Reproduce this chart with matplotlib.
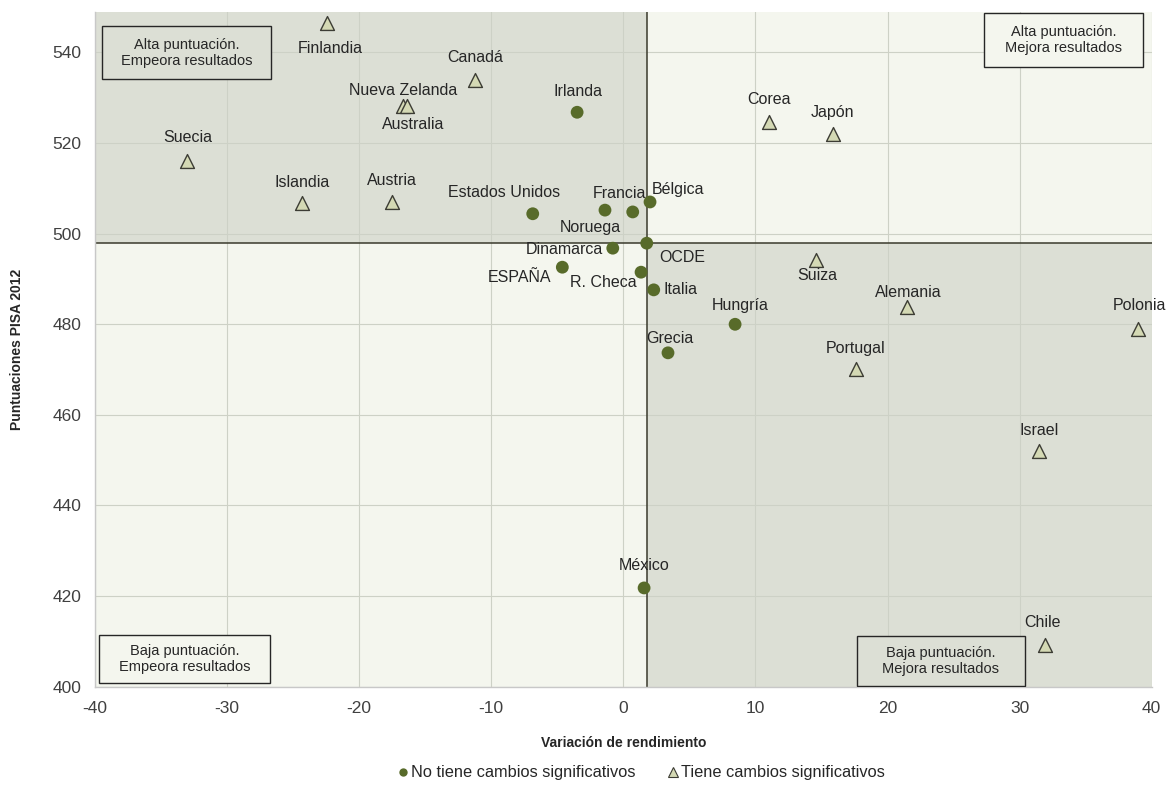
import matplotlib
matplotlib.use("Agg")
import matplotlib.pyplot as plt
from matplotlib.patches import Rectangle
from matplotlib.lines import Line2D

plt.rcParams['font.family'] = ['Liberation Sans', 'DejaVu Sans']
plt.rcParams['axes.unicode_minus'] = False

# ---- data ----
circ_names = ["Irlanda", "Estados Unidos", "Noruega", "Francia", "Bélgica", "Dinamarca",
              "OCDE", "ESPAÑA", "R. Checa", "Italia", "Hungría", "Grecia", "México"]
circ_x = [-3.5, -6.86, -1.39, 0.71, 2.02, -0.80, 1.77, -4.62, 1.34, 2.30, 8.46, 3.38, 1.57]
circ_y = [526.8, 504.4, 505.2, 504.8, 507.0, 496.8, 497.9, 492.6, 491.5, 487.6, 480.0, 473.7, 421.8]

tri_names = ["Finlandia", "Canadá", "Nueva Zelanda", "Australia", "Suecia", "Islandia", "Austria",
             "Corea", "Japón", "Suiza", "Alemania", "Polonia", "Portugal", "Israel", "Chile"]
tri_x = [-22.4, -11.2, -16.7, -16.4, -33.0, -24.3, -17.5, 11.05, 15.85, 14.6, 21.5, 39.0, 17.6, 31.5, 31.9]
tri_y = [546.4, 534.0, 528.1, 528.1, 516.1, 506.7, 507.0, 524.6, 522.1, 494.3, 483.8, 479.0, 470.1, 452.0, 409.1]

x_ticks = [-40, -30, -20, -10, 0, 10, 20, 30, 40]
y_ticks = [400, 420, 440, 460, 480, 500, 520, 540]

legend_labels = ["No tiene cambios significativos", "Tiene cambios significativos"]
box_texts = ["Alta puntuación.\nEmpeora resultados", "Alta puntuación.\nMejora resultados",
             "Baja puntuación.\nEmpeora resultados", "Baja puntuación.\nMejora resultados"]

# ---- label offsets (pixels, image y-down) ----
lab_off = {
    "Irlanda": (1, -21), "Estados Unidos": (-29, -21), "Noruega": (-15, 17), "Francia": (-13, -18),
    "Bélgica": (28, -12), "Dinamarca": (-48, 1), "OCDE": (36, 14), "ESPAÑA": (-43, 10),
    "R. Checa": (-38, 10), "Italia": (27, 0), "Hungría": (5, -19), "Grecia": (2, -14),
    "México": (0, -22), "Finlandia": (3, 25), "Canadá": (0, -22), "Nueva Zelanda": (0, -16),
    "Australia": (6, 18), "Suecia": (0, -23), "Islandia": (0, -21), "Austria": (0, -21),
    "Corea": (0, -23), "Japón": (0, -21), "Suiza": (1, 16), "Alemania": (1, -15),
    "Polonia": (1, -23), "Portugal": (0, -21), "Israel": (0, -21), "Chile": (-2, -23),
}

DARK = "#dcdfd5"
LIGHT = "#f4f6ee"
CIRC = "#586b2a"
TRI_FACE = "#d4d9b4"
TRI_EDGE = "#3c3c34"
TXT = "#262626"

fig = plt.figure(figsize=(11.74, 7.87), dpi=100)
ax = fig.add_axes([95/1174, 1-686.7/787, 1056.7/1174, 675/787])
xmin, xmax, ymin, ymax = -40, 40, 400, 549
ax.set_xlim(xmin, xmax)
ax.set_ylim(ymin, ymax)

ox = circ_x[circ_names.index("OCDE")]
oy = circ_y[circ_names.index("OCDE")]

ax.set_facecolor(LIGHT)
ax.add_patch(Rectangle((xmin, oy), ox - xmin, ymax - oy, facecolor=DARK, edgecolor='none', zorder=0))
ax.add_patch(Rectangle((ox, ymin), xmax - ox, oy - ymin, facecolor=DARK, edgecolor='none', zorder=0))

ax.set_xticks(x_ticks)
ax.set_yticks(y_ticks)
ax.grid(True, color="#cdd1c6", lw=0.8, zorder=1)
ax.set_axisbelow(True)
ax.tick_params(length=0, labelsize=12.5, colors="#404040", pad=10)
for s in ax.spines.values():
    s.set_color("#c8c8c8")
    s.set_linewidth(1)
ax.spines['top'].set_visible(False)
ax.spines['right'].set_visible(False)

ax.axhline(oy, color="#3a3a2c", lw=1.1, zorder=2)
ax.axvline(ox, color="#3a3a2c", lw=1.1, zorder=2)

ax.scatter(circ_x, circ_y, s=85, marker='o', color=CIRC, edgecolors='none', zorder=4)
ax.scatter(tri_x, tri_y, s=100, marker='^', facecolor=TRI_FACE, edgecolors=TRI_EDGE, linewidths=1.0, zorder=4)

for names, xs, ys in ((circ_names, circ_x, circ_y), (tri_names, tri_x, tri_y)):
    for n, x, y in zip(names, xs, ys):
        dx, dy = lab_off[n]
        ax.annotate(n, (x, y), xytext=(dx, -dy), textcoords='offset pixels',
                    ha='center', va='center', fontsize=11.5, color=TXT, zorder=5)

# quadrant boxes (axes fractions)
boxes = [
    (0.0064, 0.900, 0.1601, 0.0785, DARK),
    (0.841, 0.918, 0.151, 0.080, LIGHT),
    (0.0041, 0.0055, 0.1615, 0.0717, LIGHT),
    (0.7208, 0.0015, 0.1596, 0.0741, DARK),
]
for (bx, by, bw, bh, fc), t in zip(boxes, box_texts):
    ax.add_patch(Rectangle((bx, by), bw, bh, transform=ax.transAxes, facecolor=fc,
                           edgecolor="#262626", lw=1.0, zorder=6))
    ax.text(bx + bw/2, by + bh/2, t, transform=ax.transAxes, ha='center', va='center',
            fontsize=10.5, color=TXT, zorder=7, linespacing=1.15)

ax.set_xlabel("Variación de rendimiento", fontsize=10, fontweight='bold', color=TXT, labelpad=15)
fig.text(17/1174, 1-349/787, "Puntuaciones PISA 2012", rotation=90, ha='center', va='center',
         fontsize=10, fontweight='bold', color=TXT)

handles = [Line2D([], [], ls='none', marker='o', markersize=6, color=CIRC, markeredgecolor='none'),
           Line2D([], [], ls='none', marker='^', markersize=7, markerfacecolor=TRI_FACE,
                  markeredgecolor=TRI_EDGE, markeredgewidth=0.8)]
fig.legend(handles, legend_labels, loc='center', bbox_to_anchor=(640/1174, 1-773/787), ncol=2,
           frameon=False, fontsize=11.8, handletextpad=0.0, columnspacing=1.8, handlelength=1.0,
           labelcolor=TXT)

fig.savefig("out.png", dpi=100)
